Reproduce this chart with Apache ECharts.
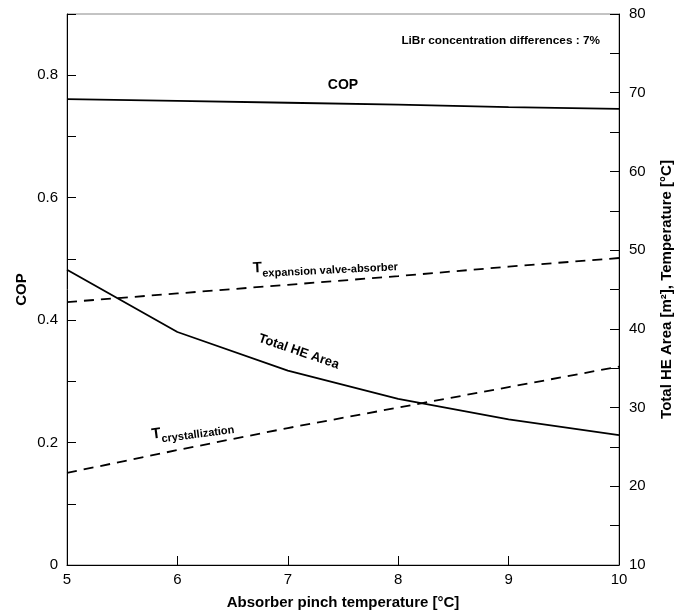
<!DOCTYPE html>
<html>
<head>
<meta charset="utf-8">
<script src="https://cdn.jsdelivr.net/npm/echarts@6/dist/echarts.min.js"></script>
<style>
  html, body { margin: 0; padding: 0; background: #fff; }
  #chart { width: 682px; height: 615px; }
</style>
</head>
<body>
<div id="chart"></div>
<script>
  // absorber pinch temperature [°C]
  var pinch = [5, 6, 7, 8, 9, 10];
  // left axis
  var cop = [0.761, 0.758, 0.755, 0.752, 0.748, 0.745];
  // right axis
  var heArea = [47.5, 39.6, 34.7, 31.1, 28.5, 26.5];
  var tExpValve = [43.4, 44.5, 45.6, 46.7, 47.9, 49.0];
  var tCryst = [21.7, 24.6, 27.4, 30.0, 32.6, 35.2];

  var font = 'Liberation Sans';

  function pairs(ys) {
    return pinch.map(function (x, i) { return [x, ys[i]]; });
  }

  var myChart = echarts.init(document.getElementById('chart'));

  var option = {
    animation: false,
    textStyle: { fontFamily: font },
    grid: {
      left: 67, right: 61, top: 14, bottom: 50,
      show: true, borderColor: '#888', borderWidth: 1
    },
    xAxis: {
      type: 'value', min: 5, max: 10, interval: 1,
      name: 'Absorber pinch temperature [°C]',
      nameLocation: 'middle', nameGap: 30,
      nameTextStyle: { fontSize: 15, fontWeight: 'bold', color: '#000', fontFamily: font },
      axisLine: { lineStyle: { color: '#000', width: 1 } },
      axisTick: { inside: true, length: 9, lineStyle: { color: '#000' } },
      axisLabel: { fontSize: 15, color: '#000', margin: 7, fontFamily: font },
      splitLine: { show: false }
    },
    yAxis: [{
      type: 'value', min: 0, max: 0.9, interval: 0.1,
      name: 'COP', nameLocation: 'middle', nameGap: 38, nameMoveOverlap: false,
      nameTextStyle: { fontSize: 15, fontWeight: 'bold', color: '#000', fontFamily: font },
      axisLine: { show: true, lineStyle: { color: '#000', width: 1 } },
      axisTick: { inside: true, length: 9, lineStyle: { color: '#000' } },
      axisLabel: {
        fontSize: 15, color: '#000', margin: 9, fontFamily: font,
        formatter: function (v) {
          var k = Math.round(v * 10);
          if (k % 2 !== 0) return '';
          return k === 0 ? '0' : (k / 10).toFixed(1);
        }
      },
      splitLine: { show: false }
    }, {
      type: 'value', min: 10, max: 80, interval: 5, position: 'right',
      name: 'Total HE Area [m²], Temperature [°C]', nameLocation: 'middle', nameGap: 40,
      nameRotate: 90,
      nameTextStyle: { fontSize: 15, fontWeight: 'bold', color: '#000', fontFamily: font },
      axisLine: { show: true, lineStyle: { color: '#000', width: 1 } },
      axisTick: { inside: true, length: 9, lineStyle: { color: '#000' } },
      axisLabel: {
        fontSize: 15, color: '#000', margin: 10, fontFamily: font,
        formatter: function (v) { return v % 10 === 0 ? String(v) : ''; }
      },
      splitLine: { show: false }
    }],
    series: [{
      name: 'COP', type: 'line', yAxisIndex: 0, data: pairs(cop),
      symbol: 'none', lineStyle: { color: '#000', width: 1.8 }
    }, {
      name: 'Total HE Area', type: 'line', yAxisIndex: 1, data: pairs(heArea),
      symbol: 'none', lineStyle: { color: '#000', width: 1.8 }
    }, {
      name: 'T expansion valve-absorber', type: 'line', yAxisIndex: 1, data: pairs(tExpValve),
      symbol: 'none', lineStyle: { color: '#000', width: 1.8, type: [10, 7] }
    }, {
      name: 'T crystallization', type: 'line', yAxisIndex: 1, data: pairs(tCryst),
      symbol: 'none', lineStyle: { color: '#000', width: 1.8, type: [10, 7] }
    }]
  };
  myChart.setOption(option);

  // annotation labels, placed in data coordinates
  function px(axisIdx, x, y) {
    return myChart.convertToPixel({ xAxisIndex: 0, yAxisIndex: axisIdx }, [x, y]);
  }
  function label(pos, rot, text, rich, size) {
    return {
      type: 'text', x: pos[0], y: pos[1], rotation: rot,
      style: {
        text: text, rich: rich, fill: '#000', align: 'center', verticalAlign: 'middle',
        font: 'bold ' + (size || 13) + 'px ' + font
      }
    };
  }
  var sub = {
    t: { fontSize: 15, fontWeight: 'bold', fontFamily: font, lineHeight: 17, verticalAlign: 'top' },
    s: { fontSize: 11, fontWeight: 'bold', fontFamily: font, lineHeight: 19, verticalAlign: 'bottom' }
  };
  myChart.setOption({
    graphic: [
      {
        type: 'text', right: 82, top: 35,
        style: { text: 'LiBr concentration differences : 7%', fill: '#000', font: 'bold 11.8px ' + font }
      },
      label(px(0, 7.5, 0.784), 0, 'COP', null, 14),
      label(px(1, 7.34, 47.9), 0.05, '{t|T}{s|expansion valve-absorber}', sub),
      label(px(1, 7.1, 37.1), -0.33, 'Total HE Area', null, 13),
      label(px(1, 6.14, 27.0), 0.13, '{t|T}{s|crystallization}', sub)
    ]
  });
</script>
</body>
</html>
